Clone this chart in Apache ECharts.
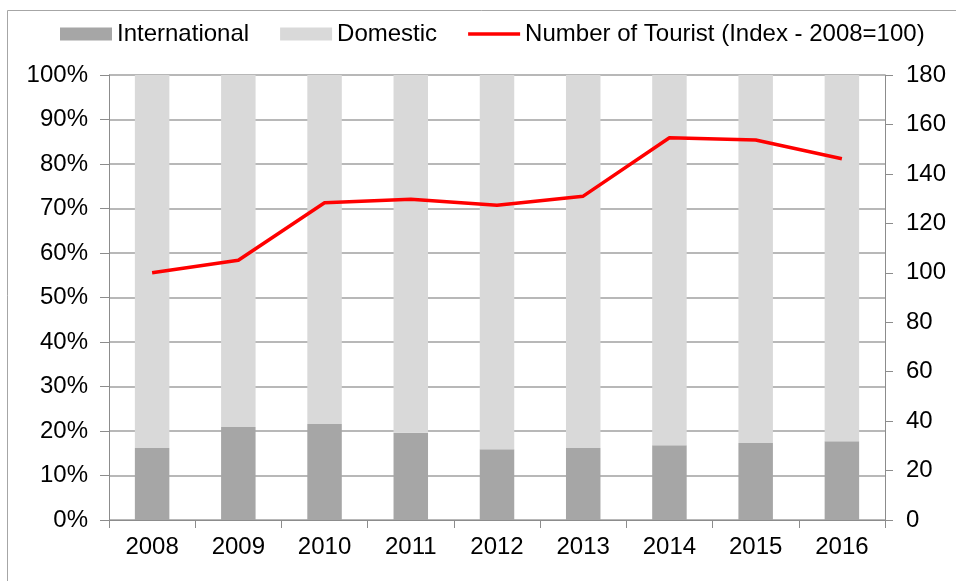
<!DOCTYPE html>
<html>
<head>
<meta charset="utf-8">
<script src="https://cdn.jsdelivr.net/npm/echarts@6/dist/echarts.min.js"></script>
<style>
html,body{margin:0;padding:0;background:#fff;}
#chart{width:956px;height:581px;}
</style>
</head>
<body>
<div id="chart"></div>
<script>
const years = ['2008','2009','2010','2011','2012','2013','2014','2015','2016'];
const international = [16.2, 20.9, 21.6, 19.6, 15.9, 16.2, 16.8, 17.3, 17.7];
const domestic = [83.8, 79.1, 78.4, 80.4, 84.1, 83.8, 83.2, 82.7, 82.3];
const touristIndex = [100, 105.1, 128.3, 129.7, 127.3, 131.0, 154.6, 153.7, 146.1];

const FONT = "'Liberation Sans', Arial, sans-serif";
const FS = 24;
const chart = echarts.init(document.getElementById('chart'));
chart.setOption({
  animation: false,
  backgroundColor: '#fff',
  textStyle: {fontFamily: FONT},
  graphic: [
    {type:'line', shape:{x1:7.5,y1:10.5,x2:956,y2:10.5}, style:{stroke:'#a6a6a6', lineWidth:1}},
    {type:'line', shape:{x1:7.5,y1:10.5,x2:7.5,y2:581}, style:{stroke:'#a6a6a6', lineWidth:1}}
  ],
  legend: {
    left: 55, top: 17,
    itemWidth: 52, itemHeight: 13, itemGap: 31,
    symbolKeepAspect: true,
    textStyle: {fontFamily: FONT, fontSize: FS, color: '#000'},
    data: [
      {name:'International', icon:'rect'},
      {name:'Domestic', icon:'rect'},
      {name:'Number of Tourist (Index - 2008=100)', icon:'path://M0,0H52V3.5H0Z'}
    ]
  },
  grid: {left: 109, right: 71, top: 75, bottom: 61, containLabel: false},
  xAxis: {
    type: 'category', data: years,
    axisLine: {lineStyle: {color: '#8c8c8c'}},
    axisTick: {show: true, length: 8, lineStyle: {color: '#8c8c8c'}},
    axisLabel: {fontSize: FS, color: '#000', margin: 15, fontFamily: FONT}
  },
  yAxis: [
    {
      type: 'value', min: 0, max: 100, interval: 10,
      axisLine: {show: true, lineStyle: {color: '#8c8c8c'}},
      axisTick: {show: true, length: 9, lineStyle: {color: '#8c8c8c'}},
      axisLabel: {formatter: '{value}%', fontSize: FS, color: '#000', margin: 21, fontFamily: FONT},
      splitLine: {show: true, lineStyle: {color: '#a0a0a0', width: 1.5}}
    },
    {
      type: 'value', min: 0, max: 180, interval: 20, position: 'right',
      axisLine: {show: true, lineStyle: {color: '#8c8c8c'}},
      axisTick: {show: true, length: 8, lineStyle: {color: '#8c8c8c'}},
      axisLabel: {fontSize: FS, color: '#000', margin: 21, fontFamily: FONT},
      splitLine: {show: false}
    }
  ],
  series: [
    {name:'International', type:'bar', stack:'s', data: international, barWidth:'40%',
     itemStyle:{color:'#a6a6a6'}},
    {name:'Domestic', type:'bar', stack:'s', data: domestic, barWidth:'40%',
     itemStyle:{color:'#d9d9d9'}},
    {name:'Number of Tourist (Index - 2008=100)', type:'line', yAxisIndex:1, data: touristIndex,
     symbol:'none', lineStyle:{color:'#ff0000', width:3.5}, itemStyle:{color:'#ff0000'}, z:5}
  ]
});
</script>
</body>
</html>
